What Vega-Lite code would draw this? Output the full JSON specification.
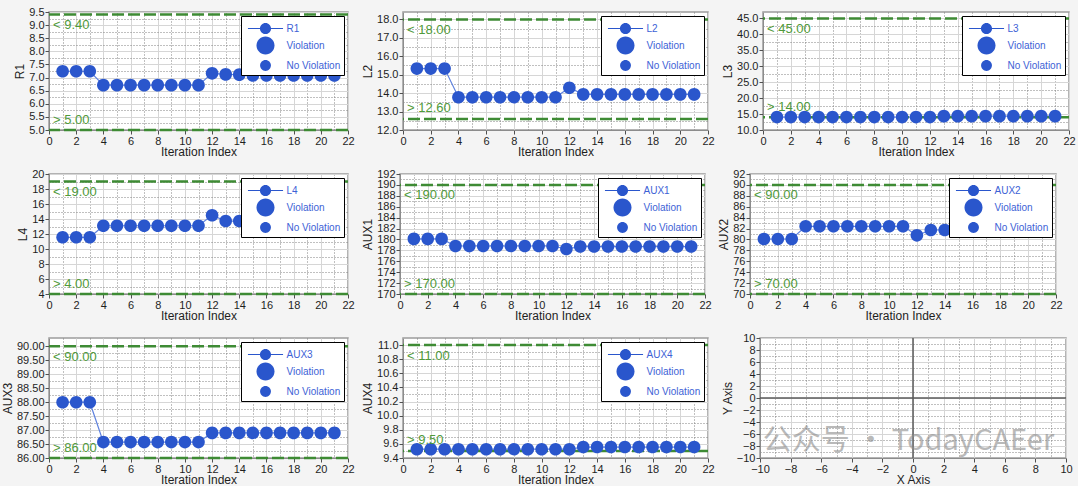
{
  "$schema": "https://vega.github.io/schema/vega-lite/v6.json",
  "background": "#f4f4f4",
  "padding": {"left": 0, "top": 5, "right": 2, "bottom": 0},
  "spacing": 9,
  "resolve": {"scale": {"shape": "independent"}, "legend": {"shape": "independent"}},
  "vconcat": [
    {
      "spacing": 5,
      "resolve": {"scale": {"shape": "independent"}, "legend": {"shape": "independent"}},
      "hconcat": [
        {
          "width": 299, "height": 118,
          "data": {"values": [
            {"i": 1, "v": 7.24, "status": "No Violation"}, {"i": 2, "v": 7.24, "status": "No Violation"}, {"i": 3, "v": 7.24, "status": "No Violation"},
            {"i": 4, "v": 6.71, "status": "No Violation"}, {"i": 5, "v": 6.71, "status": "No Violation"}, {"i": 6, "v": 6.71, "status": "No Violation"},
            {"i": 7, "v": 6.71, "status": "No Violation"}, {"i": 8, "v": 6.71, "status": "No Violation"}, {"i": 9, "v": 6.71, "status": "No Violation"},
            {"i": 10, "v": 6.71, "status": "No Violation"}, {"i": 11, "v": 6.71, "status": "No Violation"}, {"i": 12, "v": 7.16, "status": "No Violation"},
            {"i": 13, "v": 7.12, "status": "No Violation"}, {"i": 14, "v": 7.11, "status": "No Violation"}, {"i": 15, "v": 7.08, "status": "No Violation"},
            {"i": 16, "v": 7.08, "status": "No Violation"}, {"i": 17, "v": 7.08, "status": "No Violation"}, {"i": 18, "v": 7.08, "status": "No Violation"},
            {"i": 19, "v": 7.08, "status": "No Violation"}, {"i": 20, "v": 7.08, "status": "No Violation"}, {"i": 21, "v": 7.08, "status": "No Violation"}
          ]},
          "layer": [
            {
              "mark": {"type": "line", "color": "#5f82de", "strokeWidth": 1.2},
              "encoding": {
                "x": {"field": "i", "type": "quantitative", "scale": {"domain": [0, 22], "nice": false, "zero": false},
                  "axis": {"title": "Iteration Index", "values": [0,1,2,3,4,5,6,7,8,9,10,11,12,13,14,15,16,17,18,19,20,21,22], "tickCount": 100, "format": "d", "labelOverlap": false,
                    "labelExpr": "datum.value % 2 === 1 ? '' : datum.label",
                    "gridDash": {"condition": {"test": "datum.value % 2 === 1", "value": [1, 2]}, "value": []},
                    "gridColor": {"condition": {"test": "datum.value % 2 === 1", "value": "#808080"}, "value": "#d6d6d6"},
                    "tickOpacity": {"condition": {"test": "datum.value % 2 === 1", "value": 0}, "value": 1}}},
                "y": {"field": "v", "type": "quantitative", "scale": {"domain": [5, 9.5], "nice": false, "zero": false},
                  "axis": {"title": "R1", "values": [5,5.25,5.5,5.75,6,6.25,6.5,6.75,7,7.25,7.5,7.75,8,8.25,8.5,8.75,9,9.25,9.5], "tickCount": 100, "format": ".1f", "labelOverlap": false,
                    "labelExpr": "round(datum.value*4) % 2 === 1 ? '' : datum.label",
                    "gridDash": {"condition": {"test": "round(datum.value*4) % 2 === 1", "value": [1, 2]}, "value": []},
                    "gridColor": {"condition": {"test": "round(datum.value*4) % 2 === 1", "value": "#808080"}, "value": "#d6d6d6"},
                    "tickOpacity": {"condition": {"test": "round(datum.value*4) % 2 === 1", "value": 0}, "value": 1}}}
              }
            },
            {
              "data": {"values": [{"v": 9.4, "label": "< 9.40", "side": "upper"}, {"v": 5.0, "label": "> 5.00", "side": "lower"}]},
              "mark": {"type": "rule", "color": "#3e8b34", "strokeWidth": 2.5, "strokeDash": [12, 4]},
              "encoding": {"y": {"field": "v", "type": "quantitative", "scale": {"domain": [5, 9.5], "nice": false, "zero": false}}}
            },
            {
              "mark": {"type": "point", "filled": true, "opacity": 1, "size": 441, "color": "#2a56cc"},
              "encoding": {
                "x": {"field": "i", "type": "quantitative", "scale": {"domain": [0, 22], "nice": false, "zero": false}},
                "y": {"field": "v", "type": "quantitative", "scale": {"domain": [5, 9.5], "nice": false, "zero": false}},
                "shape": {"field": "status", "type": "nominal",
                  "scale": {"domain": ["R1", "Violation", "No Violation"], "range": ["M-1.95,-0.065H1.95V0.065H-1.95Z M0.62,0A0.62,0.62,0,1,1,-0.62,0A0.62,0.62,0,1,1,0.62,0Z", "M1,0A1,1,0,1,1,-1,0A1,1,0,1,1,1,0Z", "M0.6,0A0.6,0.6,0,1,1,-0.6,0A0.6,0.6,0,1,1,0.6,0Z"]},
                  "legend": {"title": null}}
              }
            },
            {
              "data": {"values": [{"v": 9.4, "label": "< 9.40", "side": "upper"}, {"v": 5.0, "label": "> 5.00", "side": "lower"}]},
              "transform": [{"filter": "datum.side === 'upper'"}],
              "mark": {"type": "text", "align": "left", "baseline": "middle", "dx": 4, "dy": 10.5, "fontSize": 13, "color": "#4f9a3a"},
              "encoding": {
                "x": {"datum": 0, "type": "quantitative", "scale": {"domain": [0, 22], "nice": false, "zero": false}},
                "y": {"field": "v", "type": "quantitative", "scale": {"domain": [5, 9.5], "nice": false, "zero": false}},
                "text": {"field": "label"}
              }
            },
            {
              "data": {"values": [{"v": 9.4, "label": "< 9.40", "side": "upper"}, {"v": 5.0, "label": "> 5.00", "side": "lower"}]},
              "transform": [{"filter": "datum.side === 'lower'"}],
              "mark": {"type": "text", "align": "left", "baseline": "middle", "dx": 4, "dy": -10.5, "fontSize": 13, "color": "#4f9a3a"},
              "encoding": {
                "x": {"datum": 0, "type": "quantitative", "scale": {"domain": [0, 22], "nice": false, "zero": false}},
                "y": {"field": "v", "type": "quantitative", "scale": {"domain": [5, 9.5], "nice": false, "zero": false}},
                "text": {"field": "label"}
              }
            }
          ]
        },
        {
          "width": 305, "height": 118,
          "data": {"values": [
            {"i": 1, "v": 15.33, "status": "No Violation"}, {"i": 2, "v": 15.33, "status": "No Violation"}, {"i": 3, "v": 15.33, "status": "No Violation"},
            {"i": 4, "v": 13.78, "status": "No Violation"}, {"i": 5, "v": 13.78, "status": "No Violation"}, {"i": 6, "v": 13.78, "status": "No Violation"},
            {"i": 7, "v": 13.78, "status": "No Violation"}, {"i": 8, "v": 13.78, "status": "No Violation"}, {"i": 9, "v": 13.78, "status": "No Violation"},
            {"i": 10, "v": 13.78, "status": "No Violation"}, {"i": 11, "v": 13.78, "status": "No Violation"}, {"i": 12, "v": 14.29, "status": "No Violation"},
            {"i": 13, "v": 13.93, "status": "No Violation"}, {"i": 14, "v": 13.93, "status": "No Violation"}, {"i": 15, "v": 13.93, "status": "No Violation"},
            {"i": 16, "v": 13.93, "status": "No Violation"}, {"i": 17, "v": 13.93, "status": "No Violation"}, {"i": 18, "v": 13.93, "status": "No Violation"},
            {"i": 19, "v": 13.93, "status": "No Violation"}, {"i": 20, "v": 13.93, "status": "No Violation"}, {"i": 21, "v": 13.93, "status": "No Violation"}
          ]},
          "layer": [
            {
              "mark": {"type": "line", "color": "#5f82de", "strokeWidth": 1.2},
              "encoding": {
                "x": {"field": "i", "type": "quantitative", "scale": {"domain": [0, 22], "nice": false, "zero": false},
                  "axis": {"title": "Iteration Index", "values": [0,1,2,3,4,5,6,7,8,9,10,11,12,13,14,15,16,17,18,19,20,21,22], "tickCount": 100, "format": "d", "labelOverlap": false,
                    "labelExpr": "datum.value % 2 === 1 ? '' : datum.label",
                    "gridDash": {"condition": {"test": "datum.value % 2 === 1", "value": [1, 2]}, "value": []},
                    "gridColor": {"condition": {"test": "datum.value % 2 === 1", "value": "#808080"}, "value": "#d6d6d6"},
                    "tickOpacity": {"condition": {"test": "datum.value % 2 === 1", "value": 0}, "value": 1}}},
                "y": {"field": "v", "type": "quantitative", "scale": {"domain": [12, 18.4], "nice": false, "zero": false},
                  "axis": {"title": "L2", "values": [12,12.5,13,13.5,14,14.5,15,15.5,16,16.5,17,17.5,18], "tickCount": 100, "format": ".1f", "labelOverlap": false,
                    "labelExpr": "round(datum.value*2) % 2 === 1 ? '' : datum.label",
                    "gridDash": {"condition": {"test": "round(datum.value*2) % 2 === 1", "value": [1, 2]}, "value": []},
                    "gridColor": {"condition": {"test": "round(datum.value*2) % 2 === 1", "value": "#808080"}, "value": "#d6d6d6"},
                    "tickOpacity": {"condition": {"test": "round(datum.value*2) % 2 === 1", "value": 0}, "value": 1}}}
              }
            },
            {
              "data": {"values": [{"v": 18.0, "label": "< 18.00", "side": "upper"}, {"v": 12.6, "label": "> 12.60", "side": "lower"}]},
              "mark": {"type": "rule", "color": "#3e8b34", "strokeWidth": 2.5, "strokeDash": [12, 4]},
              "encoding": {"y": {"field": "v", "type": "quantitative", "scale": {"domain": [12, 18.4], "nice": false, "zero": false}}}
            },
            {
              "mark": {"type": "point", "filled": true, "opacity": 1, "size": 441, "color": "#2a56cc"},
              "encoding": {
                "x": {"field": "i", "type": "quantitative", "scale": {"domain": [0, 22], "nice": false, "zero": false}},
                "y": {"field": "v", "type": "quantitative", "scale": {"domain": [12, 18.4], "nice": false, "zero": false}},
                "shape": {"field": "status", "type": "nominal",
                  "scale": {"domain": ["L2", "Violation", "No Violation"], "range": ["M-1.95,-0.065H1.95V0.065H-1.95Z M0.62,0A0.62,0.62,0,1,1,-0.62,0A0.62,0.62,0,1,1,0.62,0Z", "M1,0A1,1,0,1,1,-1,0A1,1,0,1,1,1,0Z", "M0.6,0A0.6,0.6,0,1,1,-0.6,0A0.6,0.6,0,1,1,0.6,0Z"]},
                  "legend": {"title": null}}
              }
            },
            {
              "data": {"values": [{"v": 18.0, "label": "< 18.00", "side": "upper"}, {"v": 12.6, "label": "> 12.60", "side": "lower"}]},
              "transform": [{"filter": "datum.side === 'upper'"}],
              "mark": {"type": "text", "align": "left", "baseline": "middle", "dx": 4, "dy": 10.5, "fontSize": 13, "color": "#4f9a3a"},
              "encoding": {
                "x": {"datum": 0, "type": "quantitative", "scale": {"domain": [0, 22], "nice": false, "zero": false}},
                "y": {"field": "v", "type": "quantitative", "scale": {"domain": [12, 18.4], "nice": false, "zero": false}},
                "text": {"field": "label"}
              }
            },
            {
              "data": {"values": [{"v": 18.0, "label": "< 18.00", "side": "upper"}, {"v": 12.6, "label": "> 12.60", "side": "lower"}]},
              "transform": [{"filter": "datum.side === 'lower'"}],
              "mark": {"type": "text", "align": "left", "baseline": "middle", "dx": 4, "dy": -10.5, "fontSize": 13, "color": "#4f9a3a"},
              "encoding": {
                "x": {"datum": 0, "type": "quantitative", "scale": {"domain": [0, 22], "nice": false, "zero": false}},
                "y": {"field": "v", "type": "quantitative", "scale": {"domain": [12, 18.4], "nice": false, "zero": false}},
                "text": {"field": "label"}
              }
            }
          ]
        },
        {
          "width": 306, "height": 118,
          "data": {"values": [
            {"i": 1, "v": 14.05, "status": "No Violation"}, {"i": 2, "v": 14.05, "status": "No Violation"}, {"i": 3, "v": 14.05, "status": "No Violation"},
            {"i": 4, "v": 14.05, "status": "No Violation"}, {"i": 5, "v": 14.05, "status": "No Violation"}, {"i": 6, "v": 14.05, "status": "No Violation"},
            {"i": 7, "v": 14.05, "status": "No Violation"}, {"i": 8, "v": 14.05, "status": "No Violation"}, {"i": 9, "v": 14.05, "status": "No Violation"},
            {"i": 10, "v": 14.05, "status": "No Violation"}, {"i": 11, "v": 14.05, "status": "No Violation"}, {"i": 12, "v": 14.05, "status": "No Violation"},
            {"i": 13, "v": 14.35, "status": "No Violation"}, {"i": 14, "v": 14.35, "status": "No Violation"}, {"i": 15, "v": 14.35, "status": "No Violation"},
            {"i": 16, "v": 14.35, "status": "No Violation"}, {"i": 17, "v": 14.35, "status": "No Violation"}, {"i": 18, "v": 14.35, "status": "No Violation"},
            {"i": 19, "v": 14.35, "status": "No Violation"}, {"i": 20, "v": 14.35, "status": "No Violation"}, {"i": 21, "v": 14.35, "status": "No Violation"}
          ]},
          "layer": [
            {
              "mark": {"type": "line", "color": "#5f82de", "strokeWidth": 1.2},
              "encoding": {
                "x": {"field": "i", "type": "quantitative", "scale": {"domain": [0, 22], "nice": false, "zero": false},
                  "axis": {"title": "Iteration Index", "values": [0,1,2,3,4,5,6,7,8,9,10,11,12,13,14,15,16,17,18,19,20,21,22], "tickCount": 100, "format": "d", "labelOverlap": false,
                    "labelExpr": "datum.value % 2 === 1 ? '' : datum.label",
                    "gridDash": {"condition": {"test": "datum.value % 2 === 1", "value": [1, 2]}, "value": []},
                    "gridColor": {"condition": {"test": "datum.value % 2 === 1", "value": "#808080"}, "value": "#d6d6d6"},
                    "tickOpacity": {"condition": {"test": "datum.value % 2 === 1", "value": 0}, "value": 1}}},
                "y": {"field": "v", "type": "quantitative", "scale": {"domain": [10, 47], "nice": false, "zero": false},
                  "axis": {"title": "L3", "values": [10,12.5,15,17.5,20,22.5,25,27.5,30,32.5,35,37.5,40,42.5,45], "tickCount": 100, "format": ".1f", "labelOverlap": false,
                    "labelExpr": "round(datum.value/2.5) % 2 === 1 ? '' : datum.label",
                    "gridDash": {"condition": {"test": "round(datum.value/2.5) % 2 === 1", "value": [1, 2]}, "value": []},
                    "gridColor": {"condition": {"test": "round(datum.value/2.5) % 2 === 1", "value": "#808080"}, "value": "#d6d6d6"},
                    "tickOpacity": {"condition": {"test": "round(datum.value/2.5) % 2 === 1", "value": 0}, "value": 1}}}
              }
            },
            {
              "data": {"values": [{"v": 45, "label": "< 45.00", "side": "upper"}, {"v": 14, "label": "> 14.00", "side": "lower"}]},
              "mark": {"type": "rule", "color": "#3e8b34", "strokeWidth": 2.5, "strokeDash": [12, 4]},
              "encoding": {"y": {"field": "v", "type": "quantitative", "scale": {"domain": [10, 47], "nice": false, "zero": false}}}
            },
            {
              "mark": {"type": "point", "filled": true, "opacity": 1, "size": 441, "color": "#2a56cc"},
              "encoding": {
                "x": {"field": "i", "type": "quantitative", "scale": {"domain": [0, 22], "nice": false, "zero": false}},
                "y": {"field": "v", "type": "quantitative", "scale": {"domain": [10, 47], "nice": false, "zero": false}},
                "shape": {"field": "status", "type": "nominal",
                  "scale": {"domain": ["L3", "Violation", "No Violation"], "range": ["M-1.95,-0.065H1.95V0.065H-1.95Z M0.62,0A0.62,0.62,0,1,1,-0.62,0A0.62,0.62,0,1,1,0.62,0Z", "M1,0A1,1,0,1,1,-1,0A1,1,0,1,1,1,0Z", "M0.6,0A0.6,0.6,0,1,1,-0.6,0A0.6,0.6,0,1,1,0.6,0Z"]},
                  "legend": {"title": null}}
              }
            },
            {
              "data": {"values": [{"v": 45, "label": "< 45.00", "side": "upper"}, {"v": 14, "label": "> 14.00", "side": "lower"}]},
              "transform": [{"filter": "datum.side === 'upper'"}],
              "mark": {"type": "text", "align": "left", "baseline": "middle", "dx": 4, "dy": 10.5, "fontSize": 13, "color": "#4f9a3a"},
              "encoding": {
                "x": {"datum": 0, "type": "quantitative", "scale": {"domain": [0, 22], "nice": false, "zero": false}},
                "y": {"field": "v", "type": "quantitative", "scale": {"domain": [10, 47], "nice": false, "zero": false}},
                "text": {"field": "label"}
              }
            },
            {
              "data": {"values": [{"v": 45, "label": "< 45.00", "side": "upper"}, {"v": 14, "label": "> 14.00", "side": "lower"}]},
              "transform": [{"filter": "datum.side === 'lower'"}],
              "mark": {"type": "text", "align": "left", "baseline": "middle", "dx": 4, "dy": -10.5, "fontSize": 13, "color": "#4f9a3a"},
              "encoding": {
                "x": {"datum": 0, "type": "quantitative", "scale": {"domain": [0, 22], "nice": false, "zero": false}},
                "y": {"field": "v", "type": "quantitative", "scale": {"domain": [10, 47], "nice": false, "zero": false}},
                "text": {"field": "label"}
              }
            }
          ]
        }
      ]
    },
    {
      "spacing": 5,
      "resolve": {"scale": {"shape": "independent"}, "legend": {"shape": "independent"}},
      "hconcat": [
        {
          "width": 299, "height": 120,
          "data": {"values": [
            {"i": 1, "v": 11.56, "status": "No Violation"}, {"i": 2, "v": 11.56, "status": "No Violation"}, {"i": 3, "v": 11.56, "status": "No Violation"},
            {"i": 4, "v": 13.1, "status": "No Violation"}, {"i": 5, "v": 13.1, "status": "No Violation"}, {"i": 6, "v": 13.1, "status": "No Violation"},
            {"i": 7, "v": 13.1, "status": "No Violation"}, {"i": 8, "v": 13.1, "status": "No Violation"}, {"i": 9, "v": 13.1, "status": "No Violation"},
            {"i": 10, "v": 13.1, "status": "No Violation"}, {"i": 11, "v": 13.1, "status": "No Violation"}, {"i": 12, "v": 14.5, "status": "No Violation"},
            {"i": 13, "v": 13.73, "status": "No Violation"}, {"i": 14, "v": 13.73, "status": "No Violation"}, {"i": 15, "v": 13.73, "status": "No Violation"},
            {"i": 16, "v": 13.73, "status": "No Violation"}, {"i": 17, "v": 13.73, "status": "No Violation"}, {"i": 18, "v": 13.73, "status": "No Violation"},
            {"i": 19, "v": 13.73, "status": "No Violation"}, {"i": 20, "v": 13.73, "status": "No Violation"}, {"i": 21, "v": 13.73, "status": "No Violation"}
          ]},
          "layer": [
            {
              "mark": {"type": "line", "color": "#5f82de", "strokeWidth": 1.2},
              "encoding": {
                "x": {"field": "i", "type": "quantitative", "scale": {"domain": [0, 22], "nice": false, "zero": false},
                  "axis": {"title": "Iteration Index", "values": [0,1,2,3,4,5,6,7,8,9,10,11,12,13,14,15,16,17,18,19,20,21,22], "tickCount": 100, "format": "d", "labelOverlap": false,
                    "labelExpr": "datum.value % 2 === 1 ? '' : datum.label",
                    "gridDash": {"condition": {"test": "datum.value % 2 === 1", "value": [1, 2]}, "value": []},
                    "gridColor": {"condition": {"test": "datum.value % 2 === 1", "value": "#808080"}, "value": "#d6d6d6"},
                    "tickOpacity": {"condition": {"test": "datum.value % 2 === 1", "value": 0}, "value": 1}}},
                "y": {"field": "v", "type": "quantitative", "scale": {"domain": [4, 20], "nice": false, "zero": false},
                  "axis": {"title": "L4", "values": [4,5,6,7,8,9,10,11,12,13,14,15,16,17,18,19,20], "tickCount": 100, "format": "d", "labelOverlap": false,
                    "labelExpr": "datum.value % 2 === 1 ? '' : datum.label",
                    "gridDash": {"condition": {"test": "datum.value % 2 === 1", "value": [1, 2]}, "value": []},
                    "gridColor": {"condition": {"test": "datum.value % 2 === 1", "value": "#808080"}, "value": "#d6d6d6"},
                    "tickOpacity": {"condition": {"test": "datum.value % 2 === 1", "value": 0}, "value": 1}}}
              }
            },
            {
              "data": {"values": [{"v": 19, "label": "< 19.00", "side": "upper"}, {"v": 4, "label": "> 4.00", "side": "lower"}]},
              "mark": {"type": "rule", "color": "#3e8b34", "strokeWidth": 2.5, "strokeDash": [12, 4]},
              "encoding": {"y": {"field": "v", "type": "quantitative", "scale": {"domain": [4, 20], "nice": false, "zero": false}}}
            },
            {
              "mark": {"type": "point", "filled": true, "opacity": 1, "size": 441, "color": "#2a56cc"},
              "encoding": {
                "x": {"field": "i", "type": "quantitative", "scale": {"domain": [0, 22], "nice": false, "zero": false}},
                "y": {"field": "v", "type": "quantitative", "scale": {"domain": [4, 20], "nice": false, "zero": false}},
                "shape": {"field": "status", "type": "nominal",
                  "scale": {"domain": ["L4", "Violation", "No Violation"], "range": ["M-1.95,-0.065H1.95V0.065H-1.95Z M0.62,0A0.62,0.62,0,1,1,-0.62,0A0.62,0.62,0,1,1,0.62,0Z", "M1,0A1,1,0,1,1,-1,0A1,1,0,1,1,1,0Z", "M0.6,0A0.6,0.6,0,1,1,-0.6,0A0.6,0.6,0,1,1,0.6,0Z"]},
                  "legend": {"title": null}}
              }
            },
            {
              "data": {"values": [{"v": 19, "label": "< 19.00", "side": "upper"}, {"v": 4, "label": "> 4.00", "side": "lower"}]},
              "transform": [{"filter": "datum.side === 'upper'"}],
              "mark": {"type": "text", "align": "left", "baseline": "middle", "dx": 4, "dy": 10.5, "fontSize": 13, "color": "#4f9a3a"},
              "encoding": {
                "x": {"datum": 0, "type": "quantitative", "scale": {"domain": [0, 22], "nice": false, "zero": false}},
                "y": {"field": "v", "type": "quantitative", "scale": {"domain": [4, 20], "nice": false, "zero": false}},
                "text": {"field": "label"}
              }
            },
            {
              "data": {"values": [{"v": 19, "label": "< 19.00", "side": "upper"}, {"v": 4, "label": "> 4.00", "side": "lower"}]},
              "transform": [{"filter": "datum.side === 'lower'"}],
              "mark": {"type": "text", "align": "left", "baseline": "middle", "dx": 4, "dy": -10.5, "fontSize": 13, "color": "#4f9a3a"},
              "encoding": {
                "x": {"datum": 0, "type": "quantitative", "scale": {"domain": [0, 22], "nice": false, "zero": false}},
                "y": {"field": "v", "type": "quantitative", "scale": {"domain": [4, 20], "nice": false, "zero": false}},
                "text": {"field": "label"}
              }
            }
          ]
        },
        {
          "width": 305, "height": 120,
          "data": {"values": [
            {"i": 1, "v": 180.1, "status": "No Violation"}, {"i": 2, "v": 180.1, "status": "No Violation"}, {"i": 3, "v": 180.1, "status": "No Violation"},
            {"i": 4, "v": 178.8, "status": "No Violation"}, {"i": 5, "v": 178.8, "status": "No Violation"}, {"i": 6, "v": 178.8, "status": "No Violation"},
            {"i": 7, "v": 178.8, "status": "No Violation"}, {"i": 8, "v": 178.8, "status": "No Violation"}, {"i": 9, "v": 178.8, "status": "No Violation"},
            {"i": 10, "v": 178.8, "status": "No Violation"}, {"i": 11, "v": 178.8, "status": "No Violation"}, {"i": 12, "v": 178.25, "status": "No Violation"},
            {"i": 13, "v": 178.7, "status": "No Violation"}, {"i": 14, "v": 178.7, "status": "No Violation"}, {"i": 15, "v": 178.7, "status": "No Violation"},
            {"i": 16, "v": 178.7, "status": "No Violation"}, {"i": 17, "v": 178.7, "status": "No Violation"}, {"i": 18, "v": 178.7, "status": "No Violation"},
            {"i": 19, "v": 178.7, "status": "No Violation"}, {"i": 20, "v": 178.7, "status": "No Violation"}, {"i": 21, "v": 178.7, "status": "No Violation"}
          ]},
          "layer": [
            {
              "mark": {"type": "line", "color": "#5f82de", "strokeWidth": 1.2},
              "encoding": {
                "x": {"field": "i", "type": "quantitative", "scale": {"domain": [0, 22], "nice": false, "zero": false},
                  "axis": {"title": "Iteration Index", "values": [0,1,2,3,4,5,6,7,8,9,10,11,12,13,14,15,16,17,18,19,20,21,22], "tickCount": 100, "format": "d", "labelOverlap": false,
                    "labelExpr": "datum.value % 2 === 1 ? '' : datum.label",
                    "gridDash": {"condition": {"test": "datum.value % 2 === 1", "value": [1, 2]}, "value": []},
                    "gridColor": {"condition": {"test": "datum.value % 2 === 1", "value": "#808080"}, "value": "#d6d6d6"},
                    "tickOpacity": {"condition": {"test": "datum.value % 2 === 1", "value": 0}, "value": 1}}},
                "y": {"field": "v", "type": "quantitative", "scale": {"domain": [170, 192], "nice": false, "zero": false},
                  "axis": {"title": "AUX1", "values": [170,171,172,173,174,175,176,177,178,179,180,181,182,183,184,185,186,187,188,189,190,191,192], "tickCount": 100, "format": "d", "labelOverlap": false,
                    "labelExpr": "datum.value % 2 === 1 ? '' : datum.label",
                    "gridDash": {"condition": {"test": "datum.value % 2 === 1", "value": [1, 2]}, "value": []},
                    "gridColor": {"condition": {"test": "datum.value % 2 === 1", "value": "#808080"}, "value": "#d6d6d6"},
                    "tickOpacity": {"condition": {"test": "datum.value % 2 === 1", "value": 0}, "value": 1}}}
              }
            },
            {
              "data": {"values": [{"v": 190, "label": "< 190.00", "side": "upper"}, {"v": 170, "label": "> 170.00", "side": "lower"}]},
              "mark": {"type": "rule", "color": "#3e8b34", "strokeWidth": 2.5, "strokeDash": [12, 4]},
              "encoding": {"y": {"field": "v", "type": "quantitative", "scale": {"domain": [170, 192], "nice": false, "zero": false}}}
            },
            {
              "mark": {"type": "point", "filled": true, "opacity": 1, "size": 441, "color": "#2a56cc"},
              "encoding": {
                "x": {"field": "i", "type": "quantitative", "scale": {"domain": [0, 22], "nice": false, "zero": false}},
                "y": {"field": "v", "type": "quantitative", "scale": {"domain": [170, 192], "nice": false, "zero": false}},
                "shape": {"field": "status", "type": "nominal",
                  "scale": {"domain": ["AUX1", "Violation", "No Violation"], "range": ["M-1.95,-0.065H1.95V0.065H-1.95Z M0.62,0A0.62,0.62,0,1,1,-0.62,0A0.62,0.62,0,1,1,0.62,0Z", "M1,0A1,1,0,1,1,-1,0A1,1,0,1,1,1,0Z", "M0.6,0A0.6,0.6,0,1,1,-0.6,0A0.6,0.6,0,1,1,0.6,0Z"]},
                  "legend": {"title": null}}
              }
            },
            {
              "data": {"values": [{"v": 190, "label": "< 190.00", "side": "upper"}, {"v": 170, "label": "> 170.00", "side": "lower"}]},
              "transform": [{"filter": "datum.side === 'upper'"}],
              "mark": {"type": "text", "align": "left", "baseline": "middle", "dx": 4, "dy": 10.5, "fontSize": 13, "color": "#4f9a3a"},
              "encoding": {
                "x": {"datum": 0, "type": "quantitative", "scale": {"domain": [0, 22], "nice": false, "zero": false}},
                "y": {"field": "v", "type": "quantitative", "scale": {"domain": [170, 192], "nice": false, "zero": false}},
                "text": {"field": "label"}
              }
            },
            {
              "data": {"values": [{"v": 190, "label": "< 190.00", "side": "upper"}, {"v": 170, "label": "> 170.00", "side": "lower"}]},
              "transform": [{"filter": "datum.side === 'lower'"}],
              "mark": {"type": "text", "align": "left", "baseline": "middle", "dx": 4, "dy": -10.5, "fontSize": 13, "color": "#4f9a3a"},
              "encoding": {
                "x": {"datum": 0, "type": "quantitative", "scale": {"domain": [0, 22], "nice": false, "zero": false}},
                "y": {"field": "v", "type": "quantitative", "scale": {"domain": [170, 192], "nice": false, "zero": false}},
                "text": {"field": "label"}
              }
            }
          ]
        },
        {
          "width": 306, "height": 120,
          "data": {"values": [
            {"i": 1, "v": 80.08, "status": "No Violation"}, {"i": 2, "v": 80.08, "status": "No Violation"}, {"i": 3, "v": 80.08, "status": "No Violation"},
            {"i": 4, "v": 82.41, "status": "No Violation"}, {"i": 5, "v": 82.41, "status": "No Violation"}, {"i": 6, "v": 82.41, "status": "No Violation"},
            {"i": 7, "v": 82.41, "status": "No Violation"}, {"i": 8, "v": 82.41, "status": "No Violation"}, {"i": 9, "v": 82.41, "status": "No Violation"},
            {"i": 10, "v": 82.41, "status": "No Violation"}, {"i": 11, "v": 82.41, "status": "No Violation"}, {"i": 12, "v": 80.75, "status": "No Violation"},
            {"i": 13, "v": 81.73, "status": "No Violation"}, {"i": 14, "v": 81.73, "status": "No Violation"}, {"i": 15, "v": 81.73, "status": "No Violation"},
            {"i": 16, "v": 81.73, "status": "No Violation"}, {"i": 17, "v": 81.73, "status": "No Violation"}, {"i": 18, "v": 81.73, "status": "No Violation"},
            {"i": 19, "v": 81.73, "status": "No Violation"}, {"i": 20, "v": 81.73, "status": "No Violation"}, {"i": 21, "v": 81.73, "status": "No Violation"}
          ]},
          "layer": [
            {
              "mark": {"type": "line", "color": "#5f82de", "strokeWidth": 1.2},
              "encoding": {
                "x": {"field": "i", "type": "quantitative", "scale": {"domain": [0, 22], "nice": false, "zero": false},
                  "axis": {"title": "Iteration Index", "values": [0,1,2,3,4,5,6,7,8,9,10,11,12,13,14,15,16,17,18,19,20,21,22], "tickCount": 100, "format": "d", "labelOverlap": false,
                    "labelExpr": "datum.value % 2 === 1 ? '' : datum.label",
                    "gridDash": {"condition": {"test": "datum.value % 2 === 1", "value": [1, 2]}, "value": []},
                    "gridColor": {"condition": {"test": "datum.value % 2 === 1", "value": "#808080"}, "value": "#d6d6d6"},
                    "tickOpacity": {"condition": {"test": "datum.value % 2 === 1", "value": 0}, "value": 1}}},
                "y": {"field": "v", "type": "quantitative", "scale": {"domain": [70, 92], "nice": false, "zero": false},
                  "axis": {"title": "AUX2", "values": [70,71,72,73,74,75,76,77,78,79,80,81,82,83,84,85,86,87,88,89,90,91,92], "tickCount": 100, "format": "d", "labelOverlap": false,
                    "labelExpr": "datum.value % 2 === 1 ? '' : datum.label",
                    "gridDash": {"condition": {"test": "datum.value % 2 === 1", "value": [1, 2]}, "value": []},
                    "gridColor": {"condition": {"test": "datum.value % 2 === 1", "value": "#808080"}, "value": "#d6d6d6"},
                    "tickOpacity": {"condition": {"test": "datum.value % 2 === 1", "value": 0}, "value": 1}}}
              }
            },
            {
              "data": {"values": [{"v": 90, "label": "< 90.00", "side": "upper"}, {"v": 70, "label": "> 70.00", "side": "lower"}]},
              "mark": {"type": "rule", "color": "#3e8b34", "strokeWidth": 2.5, "strokeDash": [12, 4]},
              "encoding": {"y": {"field": "v", "type": "quantitative", "scale": {"domain": [70, 92], "nice": false, "zero": false}}}
            },
            {
              "mark": {"type": "point", "filled": true, "opacity": 1, "size": 441, "color": "#2a56cc"},
              "encoding": {
                "x": {"field": "i", "type": "quantitative", "scale": {"domain": [0, 22], "nice": false, "zero": false}},
                "y": {"field": "v", "type": "quantitative", "scale": {"domain": [70, 92], "nice": false, "zero": false}},
                "shape": {"field": "status", "type": "nominal",
                  "scale": {"domain": ["AUX2", "Violation", "No Violation"], "range": ["M-1.95,-0.065H1.95V0.065H-1.95Z M0.62,0A0.62,0.62,0,1,1,-0.62,0A0.62,0.62,0,1,1,0.62,0Z", "M1,0A1,1,0,1,1,-1,0A1,1,0,1,1,1,0Z", "M0.6,0A0.6,0.6,0,1,1,-0.6,0A0.6,0.6,0,1,1,0.6,0Z"]},
                  "legend": {"title": null}}
              }
            },
            {
              "data": {"values": [{"v": 90, "label": "< 90.00", "side": "upper"}, {"v": 70, "label": "> 70.00", "side": "lower"}]},
              "transform": [{"filter": "datum.side === 'upper'"}],
              "mark": {"type": "text", "align": "left", "baseline": "middle", "dx": 4, "dy": 10.5, "fontSize": 13, "color": "#4f9a3a"},
              "encoding": {
                "x": {"datum": 0, "type": "quantitative", "scale": {"domain": [0, 22], "nice": false, "zero": false}},
                "y": {"field": "v", "type": "quantitative", "scale": {"domain": [70, 92], "nice": false, "zero": false}},
                "text": {"field": "label"}
              }
            },
            {
              "data": {"values": [{"v": 90, "label": "< 90.00", "side": "upper"}, {"v": 70, "label": "> 70.00", "side": "lower"}]},
              "transform": [{"filter": "datum.side === 'lower'"}],
              "mark": {"type": "text", "align": "left", "baseline": "middle", "dx": 4, "dy": -10.5, "fontSize": 13, "color": "#4f9a3a"},
              "encoding": {
                "x": {"datum": 0, "type": "quantitative", "scale": {"domain": [0, 22], "nice": false, "zero": false}},
                "y": {"field": "v", "type": "quantitative", "scale": {"domain": [70, 92], "nice": false, "zero": false}},
                "text": {"field": "label"}
              }
            }
          ]
        }
      ]
    },
    {
      "spacing": 5,
      "resolve": {"scale": {"shape": "independent"}, "legend": {"shape": "independent"}},
      "hconcat": [
        {
          "width": 299, "height": 120,
          "data": {"values": [
            {"i": 1, "v": 88.0, "status": "No Violation"}, {"i": 2, "v": 88.0, "status": "No Violation"}, {"i": 3, "v": 88.0, "status": "No Violation"},
            {"i": 4, "v": 86.57, "status": "No Violation"}, {"i": 5, "v": 86.57, "status": "No Violation"}, {"i": 6, "v": 86.57, "status": "No Violation"},
            {"i": 7, "v": 86.57, "status": "No Violation"}, {"i": 8, "v": 86.57, "status": "No Violation"}, {"i": 9, "v": 86.57, "status": "No Violation"},
            {"i": 10, "v": 86.57, "status": "No Violation"}, {"i": 11, "v": 86.57, "status": "No Violation"}, {"i": 12, "v": 86.9, "status": "No Violation"},
            {"i": 13, "v": 86.9, "status": "No Violation"}, {"i": 14, "v": 86.9, "status": "No Violation"}, {"i": 15, "v": 86.9, "status": "No Violation"},
            {"i": 16, "v": 86.9, "status": "No Violation"}, {"i": 17, "v": 86.9, "status": "No Violation"}, {"i": 18, "v": 86.9, "status": "No Violation"},
            {"i": 19, "v": 86.9, "status": "No Violation"}, {"i": 20, "v": 86.9, "status": "No Violation"}, {"i": 21, "v": 86.9, "status": "No Violation"}
          ]},
          "layer": [
            {
              "mark": {"type": "line", "color": "#5f82de", "strokeWidth": 1.2},
              "encoding": {
                "x": {"field": "i", "type": "quantitative", "scale": {"domain": [0, 22], "nice": false, "zero": false},
                  "axis": {"title": "Iteration Index", "values": [0,1,2,3,4,5,6,7,8,9,10,11,12,13,14,15,16,17,18,19,20,21,22], "tickCount": 100, "format": "d", "labelOverlap": false,
                    "labelExpr": "datum.value % 2 === 1 ? '' : datum.label",
                    "gridDash": {"condition": {"test": "datum.value % 2 === 1", "value": [1, 2]}, "value": []},
                    "gridColor": {"condition": {"test": "datum.value % 2 === 1", "value": "#808080"}, "value": "#d6d6d6"},
                    "tickOpacity": {"condition": {"test": "datum.value % 2 === 1", "value": 0}, "value": 1}}},
                "y": {"field": "v", "type": "quantitative", "scale": {"domain": [86, 90.3], "nice": false, "zero": false},
                  "axis": {"title": "AUX3", "values": [86,86.25,86.5,86.75,87,87.25,87.5,87.75,88,88.25,88.5,88.75,89,89.25,89.5,89.75,90], "tickCount": 100, "format": ".2f", "labelOverlap": false,
                    "labelExpr": "round(datum.value*4) % 2 === 1 ? '' : datum.label",
                    "gridDash": {"condition": {"test": "round(datum.value*4) % 2 === 1", "value": [1, 2]}, "value": []},
                    "gridColor": {"condition": {"test": "round(datum.value*4) % 2 === 1", "value": "#808080"}, "value": "#d6d6d6"},
                    "tickOpacity": {"condition": {"test": "round(datum.value*4) % 2 === 1", "value": 0}, "value": 1}}}
              }
            },
            {
              "data": {"values": [{"v": 90, "label": "< 90.00", "side": "upper"}, {"v": 86, "label": "> 86.00", "side": "lower"}]},
              "mark": {"type": "rule", "color": "#3e8b34", "strokeWidth": 2.5, "strokeDash": [12, 4]},
              "encoding": {"y": {"field": "v", "type": "quantitative", "scale": {"domain": [86, 90.3], "nice": false, "zero": false}}}
            },
            {
              "mark": {"type": "point", "filled": true, "opacity": 1, "size": 441, "color": "#2a56cc"},
              "encoding": {
                "x": {"field": "i", "type": "quantitative", "scale": {"domain": [0, 22], "nice": false, "zero": false}},
                "y": {"field": "v", "type": "quantitative", "scale": {"domain": [86, 90.3], "nice": false, "zero": false}},
                "shape": {"field": "status", "type": "nominal",
                  "scale": {"domain": ["AUX3", "Violation", "No Violation"], "range": ["M-1.95,-0.065H1.95V0.065H-1.95Z M0.62,0A0.62,0.62,0,1,1,-0.62,0A0.62,0.62,0,1,1,0.62,0Z", "M1,0A1,1,0,1,1,-1,0A1,1,0,1,1,1,0Z", "M0.6,0A0.6,0.6,0,1,1,-0.6,0A0.6,0.6,0,1,1,0.6,0Z"]},
                  "legend": {"title": null}}
              }
            },
            {
              "data": {"values": [{"v": 90, "label": "< 90.00", "side": "upper"}, {"v": 86, "label": "> 86.00", "side": "lower"}]},
              "transform": [{"filter": "datum.side === 'upper'"}],
              "mark": {"type": "text", "align": "left", "baseline": "middle", "dx": 4, "dy": 10.5, "fontSize": 13, "color": "#4f9a3a"},
              "encoding": {
                "x": {"datum": 0, "type": "quantitative", "scale": {"domain": [0, 22], "nice": false, "zero": false}},
                "y": {"field": "v", "type": "quantitative", "scale": {"domain": [86, 90.3], "nice": false, "zero": false}},
                "text": {"field": "label"}
              }
            },
            {
              "data": {"values": [{"v": 90, "label": "< 90.00", "side": "upper"}, {"v": 86, "label": "> 86.00", "side": "lower"}]},
              "transform": [{"filter": "datum.side === 'lower'"}],
              "mark": {"type": "text", "align": "left", "baseline": "middle", "dx": 4, "dy": -10.5, "fontSize": 13, "color": "#4f9a3a"},
              "encoding": {
                "x": {"datum": 0, "type": "quantitative", "scale": {"domain": [0, 22], "nice": false, "zero": false}},
                "y": {"field": "v", "type": "quantitative", "scale": {"domain": [86, 90.3], "nice": false, "zero": false}},
                "text": {"field": "label"}
              }
            }
          ]
        },
        {
          "width": 305, "height": 120,
          "data": {"values": [
            {"i": 1, "v": 9.525, "status": "No Violation"}, {"i": 2, "v": 9.525, "status": "No Violation"}, {"i": 3, "v": 9.525, "status": "No Violation"},
            {"i": 4, "v": 9.525, "status": "No Violation"}, {"i": 5, "v": 9.525, "status": "No Violation"}, {"i": 6, "v": 9.525, "status": "No Violation"},
            {"i": 7, "v": 9.525, "status": "No Violation"}, {"i": 8, "v": 9.525, "status": "No Violation"}, {"i": 9, "v": 9.525, "status": "No Violation"},
            {"i": 10, "v": 9.525, "status": "No Violation"}, {"i": 11, "v": 9.525, "status": "No Violation"}, {"i": 12, "v": 9.525, "status": "No Violation"},
            {"i": 13, "v": 9.555, "status": "No Violation"}, {"i": 14, "v": 9.555, "status": "No Violation"}, {"i": 15, "v": 9.555, "status": "No Violation"},
            {"i": 16, "v": 9.555, "status": "No Violation"}, {"i": 17, "v": 9.555, "status": "No Violation"}, {"i": 18, "v": 9.555, "status": "No Violation"},
            {"i": 19, "v": 9.555, "status": "No Violation"}, {"i": 20, "v": 9.555, "status": "No Violation"}, {"i": 21, "v": 9.555, "status": "No Violation"}
          ]},
          "layer": [
            {
              "mark": {"type": "line", "color": "#5f82de", "strokeWidth": 1.2},
              "encoding": {
                "x": {"field": "i", "type": "quantitative", "scale": {"domain": [0, 22], "nice": false, "zero": false},
                  "axis": {"title": "Iteration Index", "values": [0,1,2,3,4,5,6,7,8,9,10,11,12,13,14,15,16,17,18,19,20,21,22], "tickCount": 100, "format": "d", "labelOverlap": false,
                    "labelExpr": "datum.value % 2 === 1 ? '' : datum.label",
                    "gridDash": {"condition": {"test": "datum.value % 2 === 1", "value": [1, 2]}, "value": []},
                    "gridColor": {"condition": {"test": "datum.value % 2 === 1", "value": "#808080"}, "value": "#d6d6d6"},
                    "tickOpacity": {"condition": {"test": "datum.value % 2 === 1", "value": 0}, "value": 1}}},
                "y": {"field": "v", "type": "quantitative", "scale": {"domain": [9.4, 11.1], "nice": false, "zero": false},
                  "axis": {"title": "AUX4", "values": [9.4,9.5,9.6,9.7,9.8,9.9,10.0,10.1,10.2,10.3,10.4,10.5,10.6,10.7,10.8,10.9,11.0], "tickCount": 100, "format": ".1f", "labelOverlap": false,
                    "labelExpr": "round(datum.value*10) % 2 === 1 ? '' : datum.label",
                    "gridDash": {"condition": {"test": "round(datum.value*10) % 2 === 1", "value": [1, 2]}, "value": []},
                    "gridColor": {"condition": {"test": "round(datum.value*10) % 2 === 1", "value": "#808080"}, "value": "#d6d6d6"},
                    "tickOpacity": {"condition": {"test": "round(datum.value*10) % 2 === 1", "value": 0}, "value": 1}}}
              }
            },
            {
              "data": {"values": [{"v": 11, "label": "< 11.00", "side": "upper"}, {"v": 9.5, "label": "> 9.50", "side": "lower"}]},
              "mark": {"type": "rule", "color": "#3e8b34", "strokeWidth": 2.5, "strokeDash": [12, 4]},
              "encoding": {"y": {"field": "v", "type": "quantitative", "scale": {"domain": [9.4, 11.1], "nice": false, "zero": false}}}
            },
            {
              "mark": {"type": "point", "filled": true, "opacity": 1, "size": 441, "color": "#2a56cc"},
              "encoding": {
                "x": {"field": "i", "type": "quantitative", "scale": {"domain": [0, 22], "nice": false, "zero": false}},
                "y": {"field": "v", "type": "quantitative", "scale": {"domain": [9.4, 11.1], "nice": false, "zero": false}},
                "shape": {"field": "status", "type": "nominal",
                  "scale": {"domain": ["AUX4", "Violation", "No Violation"], "range": ["M-1.95,-0.065H1.95V0.065H-1.95Z M0.62,0A0.62,0.62,0,1,1,-0.62,0A0.62,0.62,0,1,1,0.62,0Z", "M1,0A1,1,0,1,1,-1,0A1,1,0,1,1,1,0Z", "M0.6,0A0.6,0.6,0,1,1,-0.6,0A0.6,0.6,0,1,1,0.6,0Z"]},
                  "legend": {"title": null}}
              }
            },
            {
              "data": {"values": [{"v": 11, "label": "< 11.00", "side": "upper"}, {"v": 9.5, "label": "> 9.50", "side": "lower"}]},
              "transform": [{"filter": "datum.side === 'upper'"}],
              "mark": {"type": "text", "align": "left", "baseline": "middle", "dx": 4, "dy": 10.5, "fontSize": 13, "color": "#4f9a3a"},
              "encoding": {
                "x": {"datum": 0, "type": "quantitative", "scale": {"domain": [0, 22], "nice": false, "zero": false}},
                "y": {"field": "v", "type": "quantitative", "scale": {"domain": [9.4, 11.1], "nice": false, "zero": false}},
                "text": {"field": "label"}
              }
            },
            {
              "data": {"values": [{"v": 11, "label": "< 11.00", "side": "upper"}, {"v": 9.5, "label": "> 9.50", "side": "lower"}]},
              "transform": [{"filter": "datum.side === 'lower'"}],
              "mark": {"type": "text", "align": "left", "baseline": "middle", "dx": 4, "dy": -10.5, "fontSize": 13, "color": "#4f9a3a"},
              "encoding": {
                "x": {"datum": 0, "type": "quantitative", "scale": {"domain": [0, 22], "nice": false, "zero": false}},
                "y": {"field": "v", "type": "quantitative", "scale": {"domain": [9.4, 11.1], "nice": false, "zero": false}},
                "text": {"field": "label"}
              }
            }
          ]
        },
        {
          "width": 306, "height": 120,
          "data": {"values": [{"zero": 0}]},
          "layer": [
            {
              "mark": {"type": "rule", "color": "#5a5a5a", "strokeWidth": 1.5},
              "encoding": {
                "x": {"field": "zero", "type": "quantitative", "scale": {"domain": [-10, 10], "nice": false, "zero": false},
                  "axis": {"title": "X Axis", "values": [-10,-9,-8,-7,-6,-5,-4,-3,-2,-1,0,1,2,3,4,5,6,7,8,9,10], "tickCount": 100, "format": "d", "labelOverlap": false,
                    "labelExpr": "abs(datum.value) % 2 === 1 ? '' : datum.label",
                    "gridDash": {"condition": {"test": "abs(datum.value) % 2 === 1", "value": [1, 2]}, "value": []},
                    "gridColor": {"condition": {"test": "abs(datum.value) % 2 === 1", "value": "#808080"}, "value": "#d6d6d6"},
                    "tickOpacity": {"condition": {"test": "abs(datum.value) % 2 === 1", "value": 0}, "value": 1}}}
              }
            },
            {
              "mark": {"type": "rule", "color": "#5a5a5a", "strokeWidth": 1.5},
              "encoding": {
                "y": {"field": "zero", "type": "quantitative", "scale": {"domain": [-10, 10], "nice": false, "zero": false},
                  "axis": {"title": "Y Axis", "values": [-10,-9,-8,-7,-6,-5,-4,-3,-2,-1,0,1,2,3,4,5,6,7,8,9,10], "tickCount": 100, "format": "d", "labelOverlap": false,
                    "labelExpr": "abs(datum.value) % 2 === 1 ? '' : datum.label",
                    "gridDash": {"condition": {"test": "abs(datum.value) % 2 === 1", "value": [1, 2]}, "value": []},
                    "gridColor": {"condition": {"test": "abs(datum.value) % 2 === 1", "value": "#808080"}, "value": "#d6d6d6"},
                    "tickOpacity": {"condition": {"test": "abs(datum.value) % 2 === 1", "value": 0}, "value": 1}}}
              }
            },
            {
              "mark": {"type": "text", "align": "center", "baseline": "middle", "font": "Noto Sans CJK SC", "fontSize": 29, "color": "#8c8c8c", "opacity": 0.6, "text": "公众号 · TodayCAEer"},
              "encoding": {
                "x": {"datum": -0.3, "type": "quantitative", "scale": {"domain": [-10, 10], "nice": false, "zero": false}},
                "y": {"datum": -7.2, "type": "quantitative", "scale": {"domain": [-10, 10], "nice": false, "zero": false}}
              }
            }
          ]
        }
      ]
    }
  ],
  "config": {
    "view": {"fill": "#ffffff", "stroke": "#9c9c9c", "strokeWidth": 1.5},
    "axis": {
      "labelFont": "Liberation Sans", "labelFontSize": 11, "labelColor": "#1e1e1e",
      "titleFont": "Liberation Sans", "titleFontSize": 12, "titleFontWeight": "normal", "titleColor": "#1e1e1e",
      "domainColor": "#8c8c8c", "tickColor": "#505050", "tickSize": 4, "labelPadding": 1, "titlePadding": 2,
      "labelFlush": false, "labelOverlap": false, "gridWidth": 1
    },
    "axisX": {"titlePadding": 0},
    "legend": {
      "orient": "top-right", "offset": 4, "strokeColor": "#000000", "fillColor": "#ffffff", "padding": 3.5,
      "symbolSize": 324, "symbolStrokeWidth": 0, "symbolOffset": 12, "labelOffset": 12, "symbolOpacity": 1,
      "labelFont": "Liberation Sans", "labelFontSize": 10, "labelColor": "#3d62d6", "rowPadding": 2
    },
    "text": {"font": "Liberation Sans"}
  }
}
